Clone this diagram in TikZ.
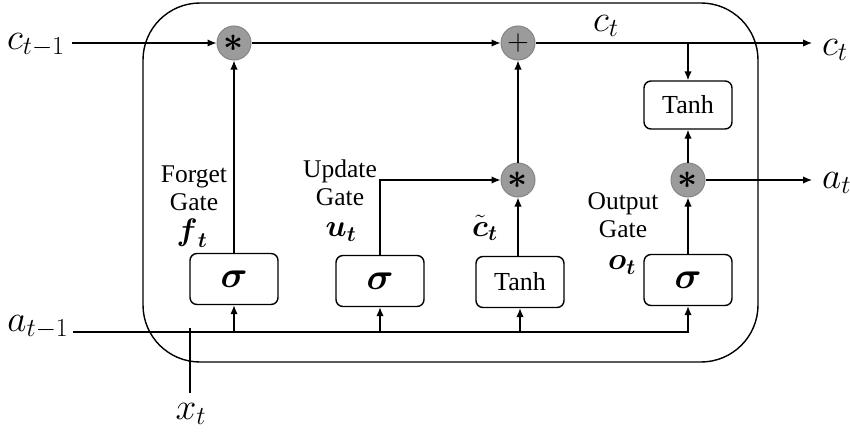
\documentclass[tikz,border=0pt]{standalone}
\usepackage{amsmath}
\usepackage{graphicx}
\usepackage{fontspec}
\setmainfont{Liberation Serif}
\usetikzlibrary{arrows.meta}
\definecolor{opfill}{HTML}{9B9B9B}
\definecolor{opdraw}{HTML}{858585}
\newcommand{\mbig}[2]{\scalebox{#1}{$#2$}}
\tikzset{
  wire/.style={line width=1.4pt},
  arr/.style={wire,-{Latex[length=9pt,width=7.5pt]}},
  op/.style={circle,fill=opfill,draw=opdraw,line width=1pt,minimum size=34pt,inner sep=0pt,font=\fontsize{24}{24}\selectfont},
  gatebox/.style={draw,line width=1.4pt,rounded corners=7pt,minimum width=88pt,minimum height=51pt,inner sep=0pt},
  tanhbox/.style={gatebox,minimum width=88pt,minimum height=48pt,font=\fontsize{26}{26}\selectfont},
  sig/.style={gatebox,font=\fontsize{24}{24}\selectfont},
  lbl/.style={font=\fontsize{25.5}{28}\selectfont,align=center,inner sep=0pt},
  mlbl/.style={font=\fontsize{24}{24}\selectfont,inner sep=0pt},
}
\begin{document}
\begin{tikzpicture}[x=1pt,y=-1pt]
\useasboundingbox (0,0) rectangle (850,436);
% outer cell
\draw[wire,rounded corners=57pt] (143,3) rectangle (758,362);
% operation circles
\node[op] (m1) at (234,43) {\mbig{1.4}{\boldsymbol{*}}};
\node[op] (p1) at (518,43) {\mbig{1.2}{+}};
\node[op] (m2) at (518,180) {\mbig{1.4}{\boldsymbol{*}}};
\node[op] (m3) at (688,180) {\mbig{1.4}{\boldsymbol{*}}};
% boxes
\node[tanhbox] (th2) at (688,105) {Tanh};
\node[sig] (s1) at (234,279) {\mbig{1.5}{\boldsymbol{\sigma}}};
\node[sig] (s2) at (380,281) {\mbig{1.5}{\boldsymbol{\sigma}}};
\node[tanhbox,minimum height=51pt] (th1) at (520,282) {Tanh};
\node[sig] (s3) at (688,280) {\mbig{1.5}{\boldsymbol{\sigma}}};
% coordinates
\coordinate (cin) at (72,43);
\coordinate (cout) at (812,43);
\coordinate (tap) at (688,43);
\coordinate (aout) at (812,180);
\coordinate (ain) at (73,332);
\coordinate (acorner) at (688,332);
\coordinate (ucorner) at (380,180);
\coordinate (xin) at (190,393);
\coordinate (xtop) at (190,328);
% cell state line
\draw[arr] (cin) -- (m1);
\draw[arr] (m1) -- (p1);
\draw[arr] (p1) -- (cout);
\draw[arr] (tap) -- (th2);
% output path
\draw[arr] (m3) -- (th2);
\draw[arr] (m3) -- (aout);
% gates to ops
\draw[arr] (s1) -- (m1);
\draw[arr] (s2.north) -- (ucorner) -- (m2);
\draw[arr] (th1.north -| m2) -- (m2);
\draw[arr] (m2) -- (p1);
\draw[arr] (s3) -- (m3);
% input line
\draw[arr] (ain) -- (acorner) -- (s3.south);
\draw[arr] (s1.south |- ain) -- (s1.south);
\draw[arr] (s2.south |- ain) -- (s2.south);
\draw[arr] (th1.south |- ain) -- (th1.south);
\draw[wire] (xin) -- (xtop);
% labels
\node[mlbl] (lcin) at (36,45) {\mbig{1.5}{c_{t-1}}};
\node[mlbl] (lain) at (38,327) {\mbig{1.5}{a_{t-1}}};
\node[mlbl] (lx) at (191,414) {\mbig{1.5}{x_{t}}};
\node[mlbl,anchor=west] (lcout) at (822,50) {\mbig{1.5}{c_{t}}};
\node[mlbl,anchor=west] (laout) at (822,183) {\mbig{1.5}{a_{t}}};
\node[mlbl] (lct) at (606,26) {\mbig{1.5}{c_{t}}};
\node[lbl] (lf) at (194,188) {Forget\\Gate};
\node[lbl] (lu) at (340,183) {Update\\Gate};
\node[lbl] (lo) at (623,215) {Output\\Gate};
\node[mlbl] (lft) at (192,233) {\mbig{1.25}{\boldsymbol{f}_{\boldsymbol{t}}}};
\node[mlbl] (lut) at (341,232) {\mbig{1.25}{\boldsymbol{u}_{\boldsymbol{t}}}};
\node[mlbl] (lctt) at (485,228) {\mbig{1.25}{\tilde{\boldsymbol{c}}_{\boldsymbol{t}}}};
\node[mlbl] (lot) at (622,265) {\mbig{1.25}{\boldsymbol{o}_{\boldsymbol{t}}}};
\end{tikzpicture}
\end{document}
